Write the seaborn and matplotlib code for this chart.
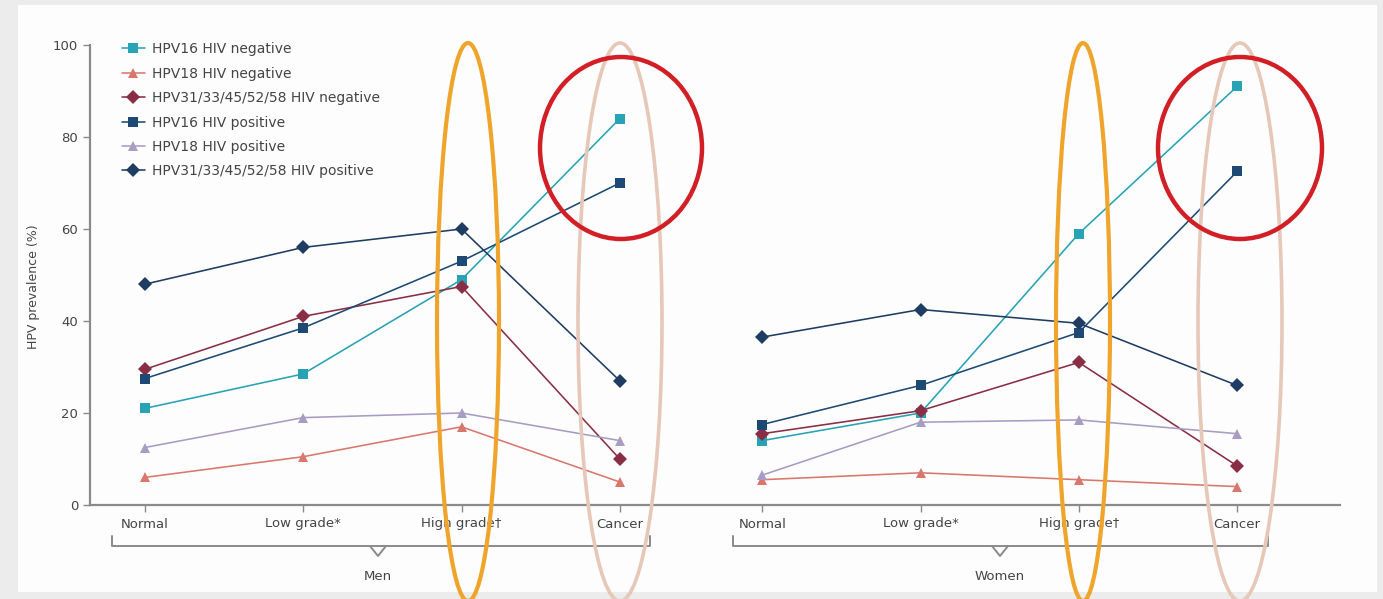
import numpy as np
import pandas as pd
import matplotlib
matplotlib.use("Agg")
import matplotlib.pyplot as plt
from matplotlib.patches import Ellipse, Rectangle
from matplotlib.lines import Line2D
import seaborn as sns

# ---------------- data ----------------
stages = ["Normal", "Low grade*", "High grade\u2020", "Cancer"]
groups = ["Men", "Women"]
series = ["HPV16 HIV negative", "HPV18 HIV negative", "HPV31/33/45/52/58 HIV negative",
          "HPV16 HIV positive", "HPV18 HIV positive", "HPV31/33/45/52/58 HIV positive"]

men_hpv16_neg = [21, 28.5, 49, 84]
men_hpv18_neg = [6, 10.5, 17, 5]
men_hpvhr_neg = [29.5, 41, 47.5, 10]
men_hpv16_pos = [27.5, 38.5, 53, 70]
men_hpv18_pos = [12.5, 19, 20, 14]
men_hpvhr_pos = [48, 56, 60, 27]

women_hpv16_neg = [14, 20, 59, 91]
women_hpv18_neg = [5.5, 7, 5.5, 4]
women_hpvhr_neg = [15.5, 20.5, 31, 8.5]
women_hpv16_pos = [17.5, 26, 37.5, 72.5]
women_hpv18_pos = [6.5, 18, 18.5, 15.5]
women_hpvhr_pos = [36.5, 42.5, 39.5, 26]

men_vals = [men_hpv16_neg, men_hpv18_neg, men_hpvhr_neg, men_hpv16_pos, men_hpv18_pos, men_hpvhr_pos]
women_vals = [women_hpv16_neg, women_hpv18_neg, women_hpvhr_neg, women_hpv16_pos, women_hpv18_pos, women_hpvhr_pos]

# category positions on the x axis (men block, women block)
men_pos = [0, 1, 2, 3]
women_pos = [3.9, 4.9, 5.9, 6.9]

rows = []
for s, mv, wv in zip(series, men_vals, women_vals):
    for p, st, v in zip(men_pos, stages, mv):
        rows.append(dict(series=s, group="Men", stage=st, x=p, value=v))
    for p, st, v in zip(women_pos, stages, wv):
        rows.append(dict(series=s, group="Women", stage=st, x=p, value=v))
df = pd.DataFrame(rows)

colors = {
    series[0]: "#27a3b5",
    series[1]: "#d9776d",
    series[2]: "#8a2e45",
    series[3]: "#1d4a74",
    series[4]: "#a99cc2",
    series[5]: "#1f3c63",
}
markers = {series[0]: "s", series[1]: "^", series[2]: "D",
           series[3]: "s", series[4]: "^", series[5]: "D"}

# ---------------- figure ----------------
W, H = 1383, 599
sns.set_theme(style="white")
plt.rcParams["font.family"] = ["DejaVu Sans"]
fig = plt.figure(figsize=(W / 100, H / 100), dpi=100, facecolor="#ececec")

def fx(px):
    return px / W

def fy(py):
    return 1 - py / H

fig.patches.append(Rectangle((fx(18), fy(592)), fx(1377) - fx(18), fy(5) - fy(592),
                             transform=fig.transFigure, facecolor="#fdfdfd",
                             edgecolor="none", zorder=-10))

ax = fig.add_axes([fx(90), fy(505), fx(1340) - fx(90), fy(45) - fy(505)])
ax.set_facecolor("none")
ax.set_zorder(1)

sns.lineplot(data=df, x="x", y="value", hue="series", style="series",
             units="group", estimator=None, hue_order=series, style_order=series,
             palette=colors, markers=markers, dashes=False, linewidth=1.15,
             markersize=7, markeredgewidth=0, ax=ax, sort=False)

ax.set_xlim(-0.347, 7.55)
ax.set_ylim(0, 100)
ax.set_yticks([0, 20, 40, 60, 80, 100])
ax.set_xticks(men_pos + women_pos)
ax.set_xticklabels(stages + stages)
ax.set_xlabel("")
ax.set_ylabel("")
for side in ["top", "right"]:
    ax.spines[side].set_visible(False)
for side in ["left", "bottom"]:
    ax.spines[side].set_color("#8a8a8a")
    ax.spines[side].set_linewidth(1.6)
ax.tick_params(axis="both", which="both", length=5, width=1, color="#8a8a8a",
               labelsize=9.5, labelcolor="#444444", direction="out",
               left=True, bottom=True)
ax.tick_params(axis="x", pad=4)

axw = fx(1340) - fx(90)
leg = ax.legend(loc="upper left", bbox_to_anchor=((fx(116) - fx(90)) / axw, 1.018),
                frameon=False, fontsize=10, handlelength=1.7, labelspacing=0.75,
                handletextpad=0.5, borderaxespad=0)
for t in leg.get_texts():
    t.set_color("#444444")

fig.text(fx(33), fy(287), "HPV prevalence (%)", rotation=90, ha="center", va="center",
         fontsize=9, color="#444444")

# ---------------- braces and group labels ----------------
def brace(x0, x1, xm, y, col="#8a8a8a"):
    lw = 1.4
    fig.lines.append(Line2D([fx(x0), fx(x0), fx(x1), fx(x1)],
                            [fy(y - 10), fy(y), fy(y), fy(y - 10)],
                            transform=fig.transFigure, color=col, lw=lw, zorder=2))
    fig.lines.append(Line2D([fx(xm - 8), fx(xm), fx(xm + 8)],
                            [fy(y), fy(y + 10), fy(y)],
                            transform=fig.transFigure, color=col, lw=lw, zorder=2))

brace(112, 650, 378, 546)
brace(733, 1268, 1000, 546)
fig.text(fx(378), fy(576), "Men", ha="center", va="center", fontsize=9.5, color="#444444")
fig.text(fx(1000), fy(576), "Women", ha="center", va="center", fontsize=9.5, color="#444444")

# ---------------- annotation ellipses ----------------
def ell(cx, cy, w, h, col, lw):
    fig.patches.append(Ellipse((fx(cx), fy(cy)), w / W, h / H, transform=fig.transFigure,
                               facecolor="none", edgecolor=col, lw=lw, zorder=5))

ell(468, 322, 62, 558, "#efa52c", 3.0)
ell(1083, 322, 54, 558, "#efa52c", 3.0)
ell(620, 322, 84, 558, "#e6c8b8", 2.6)
ell(1240, 322, 84, 558, "#e6c8b8", 2.6)
ell(621, 148, 162, 182, "#d11f25", 3.2)
ell(1240, 148, 164, 182, "#d11f25", 3.2)

fig.savefig("out.png", dpi=100, facecolor=fig.get_facecolor())
